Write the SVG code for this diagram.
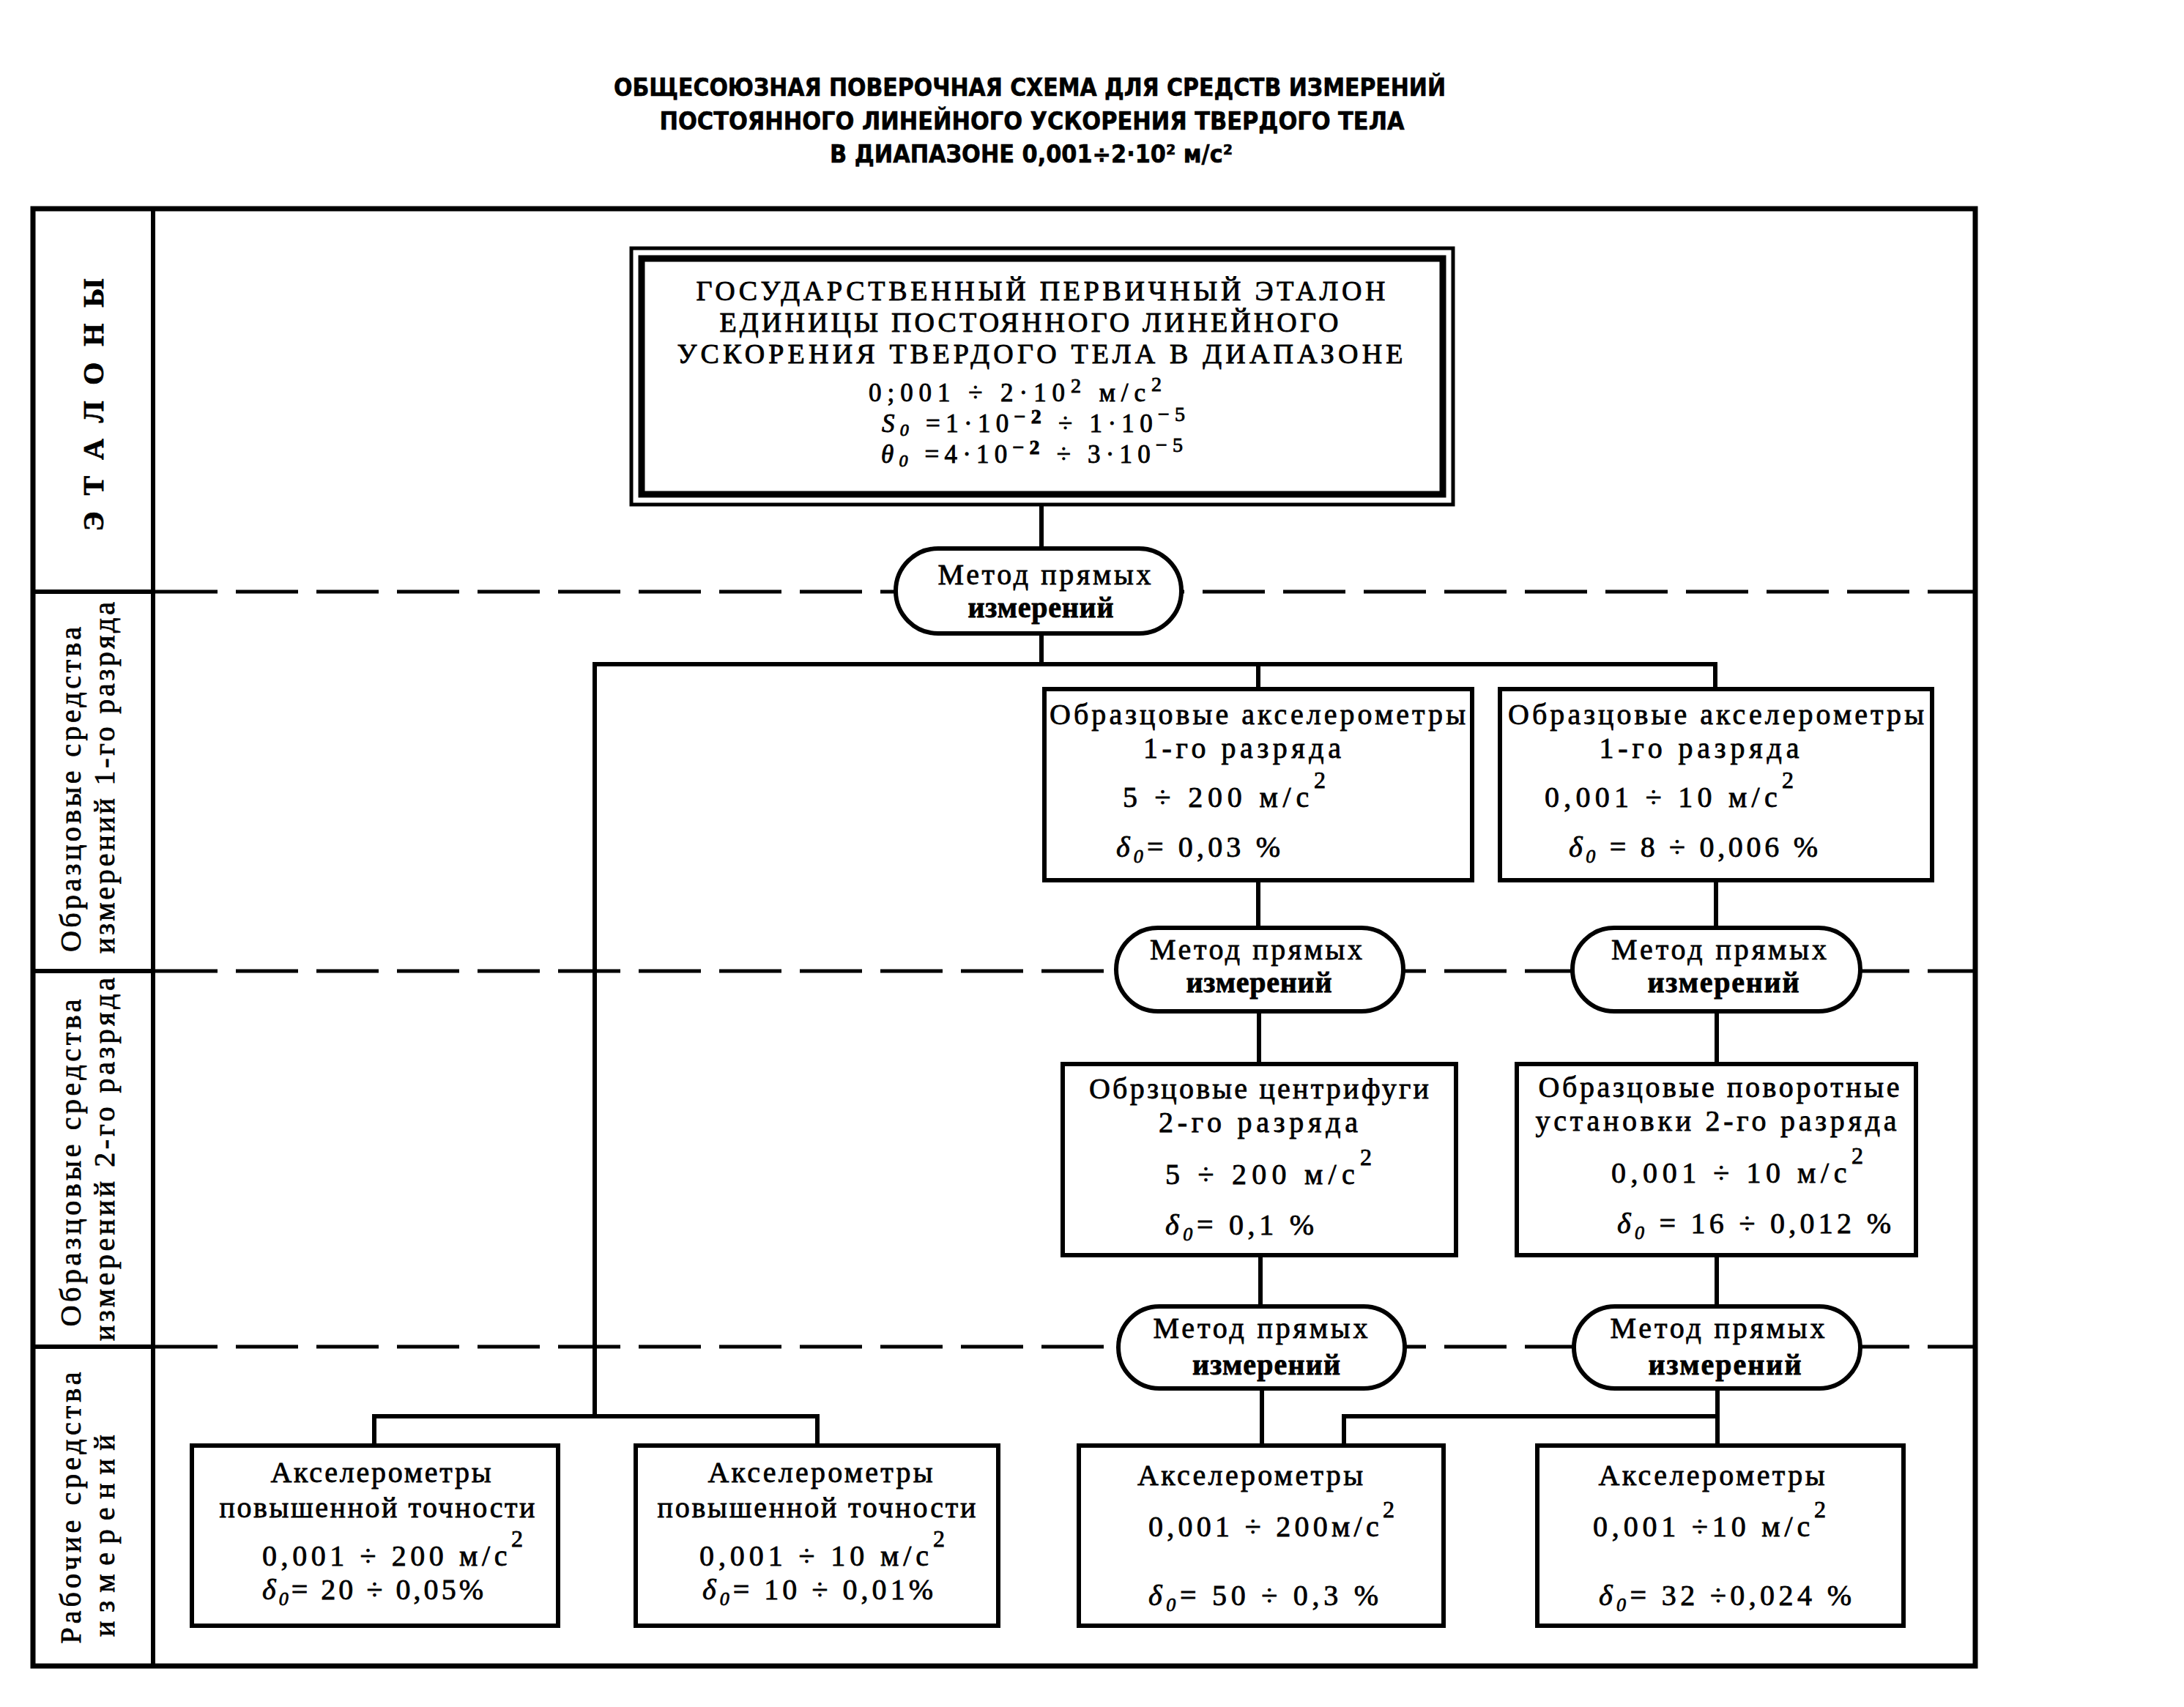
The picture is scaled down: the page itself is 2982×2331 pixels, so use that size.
<svg xmlns="http://www.w3.org/2000/svg" width="2982" height="2331" viewBox="0 0 2982 2331">
<style>
.frame{fill:none;stroke:#000;stroke-width:7}
.div{stroke:#000;stroke-width:6}
.dash{stroke:#000;stroke-width:5;stroke-dasharray:85 25}
.box{fill:#fff;stroke:#000;stroke-width:6}
.oval{fill:#fff;stroke:#000;stroke-width:6}
.conn{fill:none;stroke:#000;stroke-width:6}
.t{font-family:"Liberation Serif","DejaVu Serif",serif;font-size:40px;fill:#000;stroke:#000;stroke-width:0.8}
.m{text-anchor:middle}
.b{font-weight:bold}
.i{font-style:italic}
.sub{font-size:26px;font-style:italic}
.sup{font-size:32px}
.title{font-family:"DejaVu Sans Condensed","DejaVu Sans",sans-serif;font-weight:bold;font-size:34px;text-anchor:middle;fill:#000;stroke:#000;stroke-width:0.6}
.lab{font-family:"Liberation Serif","DejaVu Serif",serif;font-size:40px;text-anchor:middle;fill:#000;stroke:#000;stroke-width:0.8}
.top{font-family:"Liberation Serif","DejaVu Serif",serif;font-size:38px;fill:#000;stroke:#000;stroke-width:0.9}
.num{font-family:"Liberation Serif","DejaVu Serif",serif;font-size:35px;fill:#000;stroke:#000;stroke-width:0.9}
</style>

<g id="title">
<text class="title" x="1406" y="131" textLength="1136" lengthAdjust="spacingAndGlyphs">ОБЩЕСОЮЗНАЯ ПОВЕРОЧНАЯ СХЕМА ДЛЯ СРЕДСТВ ИЗМЕРЕНИЙ</text>
<text class="title" x="1409" y="177" textLength="1017" lengthAdjust="spacingAndGlyphs">ПОСТОЯННОГО ЛИНЕЙНОГО УСКОРЕНИЯ ТВЕРДОГО ТЕЛА</text>
<text class="title" x="1408" y="222" textLength="550" lengthAdjust="spacingAndGlyphs">В ДИАПАЗОНЕ 0,001÷2·10² м/с²</text>
</g>

<g id="frame">
<rect class="frame" x="45" y="285" width="2652" height="1990"/>
<line class="div" x1="209" y1="285" x2="209" y2="2275"/>
<line class="div" x1="45" y1="808" x2="209" y2="808"/>
<line class="div" x1="45" y1="1326" x2="209" y2="1326"/>
<line class="div" x1="45" y1="1839" x2="209" y2="1839"/>
<line class="dash" x1="212" y1="808" x2="2694" y2="808"/>
<line class="dash" x1="212" y1="1326" x2="2694" y2="1326"/>
<line class="dash" x1="212" y1="1839" x2="2694" y2="1839"/>
</g>

<g id="row-labels">
<text class="lab b" transform="translate(141,553) rotate(-90)" font-size="40" textLength="345" lengthAdjust="spacing">Э Т А Л О Н Ы</text>
<text class="lab" transform="translate(110,1078) rotate(-90)" textLength="444" lengthAdjust="spacing">Образцовые средства</text>
<text class="lab" transform="translate(156,1062) rotate(-90)" textLength="480" lengthAdjust="spacing">измерений 1-го разряда</text>
<text class="lab" transform="translate(110,1588) rotate(-90)" textLength="447" lengthAdjust="spacing">Образцовые средства</text>
<text class="lab" transform="translate(156,1583) rotate(-90)" textLength="496" lengthAdjust="spacing">измерений 2-го разряда</text>
<text class="lab" transform="translate(110,2059) rotate(-90)" textLength="371" lengthAdjust="spacing">Рабочие средства</text>
<text class="lab" transform="translate(156,2097) rotate(-90)" textLength="276" lengthAdjust="spacing">измерений</text>
</g>

<g id="connectors">
<line class="conn" x1="1422" y1="689" x2="1422" y2="749"/>
<line class="conn" x1="1422" y1="865" x2="1422" y2="907"/>
<polyline class="conn" points="812,1934 812,907 2342,907 2342,941"/>
<line class="conn" x1="1718" y1="907" x2="1718" y2="941"/>
<polyline class="conn" points="511,1974 511,1934 1116,1934 1116,1974"/>
<line class="conn" x1="1718" y1="1202" x2="1718" y2="1267"/>
<line class="conn" x1="1719" y1="1381" x2="1719" y2="1453"/>
<line class="conn" x1="2343" y1="1202" x2="2343" y2="1267"/>
<line class="conn" x1="2344" y1="1381" x2="2344" y2="1453"/>
<line class="conn" x1="1721" y1="1714" x2="1721" y2="1784"/>
<line class="conn" x1="2344" y1="1714" x2="2344" y2="1784"/>
<line class="conn" x1="1723" y1="1896" x2="1723" y2="1974"/>
<line class="conn" x1="2345" y1="1896" x2="2345" y2="1974"/>
<polyline class="conn" points="1835,1974 1835,1934 2345,1934"/>
</g>

<g id="standard">
<rect x="862" y="339" width="1122" height="350" fill="#fff" stroke="#000" stroke-width="5"/>
<rect x="876" y="353" width="1094" height="322" fill="none" stroke="#000" stroke-width="9"/>
<text class="top m" x="1421" y="410" textLength="941" lengthAdjust="spacing">ГОСУДАРСТВЕННЫЙ ПЕРВИЧНЫЙ ЭТАЛОН</text>
<text class="top m" x="1405" y="453" textLength="845" lengthAdjust="spacing">ЕДИНИЦЫ ПОСТОЯННОГО ЛИНЕЙНОГО</text>
<text class="top m" x="1420" y="496" textLength="991" lengthAdjust="spacing">УСКОРЕНИЯ ТВЕРДОГО ТЕЛА В ДИАПАЗОНЕ</text>
<text class="num" x="1186" y="548" textLength="400" lengthAdjust="spacing">0;001 ÷ 2·10<tspan dy="-12" font-size="28">2</tspan><tspan dy="12"> м/с</tspan><tspan dy="-14" font-size="28">2</tspan></text>
<text class="num" x="1204" y="590" textLength="414" lengthAdjust="spacing"><tspan class="i">S</tspan><tspan class="i" font-size="24" dy="5">0</tspan><tspan dy="-5"> =1·10</tspan><tspan dy="-12" font-size="28" class="b">−2</tspan><tspan dy="12"> ÷ 1·10</tspan><tspan dy="-15" font-size="28">−5</tspan></text>
<text class="num" x="1203" y="632" textLength="412" lengthAdjust="spacing"><tspan class="i">θ</tspan><tspan class="i" font-size="24" dy="5">0</tspan><tspan dy="-5"> =4·10</tspan><tspan dy="-12" font-size="28" class="b">−2</tspan><tspan dy="12"> ÷ 3·10</tspan><tspan dy="-15" font-size="28">−5</tspan></text>
</g>

<g id="method-1">
<rect class="oval" x="1223" y="749" width="390" height="116" rx="58"/>
<text class="t m" x="1426" y="798" font-size="38" textLength="291" lengthAdjust="spacing">Метод прямых</text>
<text class="t m b" x="1421" y="843" font-size="38" textLength="199" lengthAdjust="spacing">измерений</text>
</g>

<g id="accel-1a">
<rect class="box" x="1426" y="941" width="584" height="261"/>
<text class="t m" x="1717" y="989" textLength="568" lengthAdjust="spacing">Образцовые акселерометры</text>
<text class="t m" x="1696" y="1035" textLength="270" lengthAdjust="spacing">1-го разряда</text>
<text class="t" x="1533" y="1102" textLength="277" lengthAdjust="spacing">5 ÷ 200 м/с<tspan class="sup" dy="-26">2</tspan></text>
<text class="t" x="1524" y="1170" textLength="224" lengthAdjust="spacing"><tspan class="i">δ</tspan><tspan class="sub" dy="8">0</tspan><tspan dy="-8">= 0,03 %</tspan></text>
</g>

<g id="accel-1b">
<rect class="box" x="2048" y="941" width="590" height="261"/>
<text class="t m" x="2343" y="989" textLength="568" lengthAdjust="spacing">Образцовые акселерометры</text>
<text class="t m" x="2320" y="1035" textLength="273" lengthAdjust="spacing">1-го разряда</text>
<text class="t" x="2109" y="1102" textLength="340" lengthAdjust="spacing">0,001 ÷ 10 м/с<tspan class="sup" dy="-26">2</tspan></text>
<text class="t" x="2142" y="1170" textLength="340" lengthAdjust="spacing"><tspan class="i">δ</tspan><tspan class="sub" dy="8">0</tspan><tspan dy="-8"> = 8 ÷ 0,006 %</tspan></text>
</g>

<g id="method-2a">
<rect class="oval" x="1524" y="1267" width="392" height="114" rx="57"/>
<text class="t m" x="1715" y="1310" font-size="38" textLength="290" lengthAdjust="spacing">Метод прямых</text>
<text class="t m b" x="1719" y="1355" font-size="38" textLength="199" lengthAdjust="spacing">измерений</text>
</g>

<g id="method-2b">
<rect class="oval" x="2147" y="1267" width="393" height="114" rx="57"/>
<text class="t m" x="2347" y="1310" font-size="38" textLength="294" lengthAdjust="spacing">Метод прямых</text>
<text class="t m b" x="2353" y="1355" font-size="38" textLength="207" lengthAdjust="spacing">измерений</text>
</g>

<g id="centrifuge-2">
<rect class="box" x="1451" y="1453" width="537" height="261"/>
<text class="t m" x="1719" y="1500" textLength="464" lengthAdjust="spacing">Обрзцовые центрифуги</text>
<text class="t m" x="1718" y="1546" textLength="272" lengthAdjust="spacing">2-го разряда</text>
<text class="t" x="1591" y="1617" textLength="282" lengthAdjust="spacing">5 ÷ 200 м/с<tspan class="sup" dy="-26">2</tspan></text>
<text class="t" x="1591" y="1686" textLength="203" lengthAdjust="spacing"><tspan class="i">δ</tspan><tspan class="sub" dy="8">0</tspan><tspan dy="-8">= 0,1 %</tspan></text>
</g>

<g id="rotary-2">
<rect class="box" x="2071" y="1453" width="545" height="261"/>
<text class="t m" x="2347" y="1498" textLength="493" lengthAdjust="spacing">Образцовые поворотные</text>
<text class="t m" x="2343" y="1544" textLength="493" lengthAdjust="spacing">установки 2-го разряда</text>
<text class="t" x="2200" y="1615" textLength="344" lengthAdjust="spacing">0,001 ÷ 10 м/с<tspan class="sup" dy="-26">2</tspan></text>
<text class="t" x="2208" y="1684" textLength="374" lengthAdjust="spacing"><tspan class="i">δ</tspan><tspan class="sub" dy="8">0</tspan><tspan dy="-8"> = 16 ÷ 0,012 %</tspan></text>
</g>

<g id="method-3a">
<rect class="oval" x="1527" y="1784" width="391" height="112" rx="56"/>
<text class="t m" x="1721" y="1827" font-size="38" textLength="293" lengthAdjust="spacing">Метод прямых</text>
<text class="t m b" x="1729" y="1877" font-size="38" textLength="202" lengthAdjust="spacing">измерений</text>
</g>

<g id="method-3b">
<rect class="oval" x="2149" y="1784" width="391" height="112" rx="56"/>
<text class="t m" x="2345" y="1827" font-size="38" textLength="293" lengthAdjust="spacing">Метод прямых</text>
<text class="t m b" x="2355" y="1877" font-size="38" textLength="209" lengthAdjust="spacing">измерений</text>
</g>

<g id="work-a">
<rect class="box" x="262" y="1974" width="500" height="246"/>
<text class="t m" x="520" y="2024" textLength="301" lengthAdjust="spacing">Акселерометры</text>
<text class="t m" x="515" y="2072" textLength="431" lengthAdjust="spacing">повышенной точности</text>
<text class="t" x="358" y="2138" textLength="356" lengthAdjust="spacing">0,001 ÷ 200 м/с<tspan class="sup" dy="-26">2</tspan></text>
<text class="t" x="358" y="2184" textLength="302" lengthAdjust="spacing"><tspan class="i">δ</tspan><tspan class="sub" dy="8">0</tspan><tspan dy="-8">= 20 ÷ 0,05%</tspan></text>
</g>

<g id="work-b">
<rect class="box" x="868" y="1974" width="495" height="246"/>
<text class="t m" x="1120" y="2024" textLength="307" lengthAdjust="spacing">Акселерометры</text>
<text class="t m" x="1115" y="2072" textLength="435" lengthAdjust="spacing">повышенной точности</text>
<text class="t" x="955" y="2138" textLength="335" lengthAdjust="spacing">0,001 ÷ 10 м/с<tspan class="sup" dy="-26">2</tspan></text>
<text class="t" x="959" y="2184" textLength="315" lengthAdjust="spacing"><tspan class="i">δ</tspan><tspan class="sub" dy="8">0</tspan><tspan dy="-8">= 10 ÷ 0,01%</tspan></text>
</g>

<g id="work-c">
<rect class="box" x="1473" y="1974" width="498" height="246"/>
<text class="t m" x="1707" y="2028" textLength="308" lengthAdjust="spacing">Акселерометры</text>
<text class="t" x="1568" y="2098" textLength="336" lengthAdjust="spacing">0,001 ÷ 200м/с<tspan class="sup" dy="-26">2</tspan></text>
<text class="t" x="1568" y="2192" textLength="314" lengthAdjust="spacing"><tspan class="i">δ</tspan><tspan class="sub" dy="8">0</tspan><tspan dy="-8">= 50 ÷ 0,3 %</tspan></text>
</g>

<g id="work-d">
<rect class="box" x="2099" y="1974" width="500" height="246"/>
<text class="t m" x="2337" y="2028" textLength="309" lengthAdjust="spacing">Акселерометры</text>
<text class="t" x="2175" y="2098" textLength="318" lengthAdjust="spacing">0,001 ÷10 м/с<tspan class="sup" dy="-26">2</tspan></text>
<text class="t" x="2183" y="2192" textLength="345" lengthAdjust="spacing"><tspan class="i">δ</tspan><tspan class="sub" dy="8">0</tspan><tspan dy="-8">= 32 ÷0,024 %</tspan></text>
</g>
</svg>
